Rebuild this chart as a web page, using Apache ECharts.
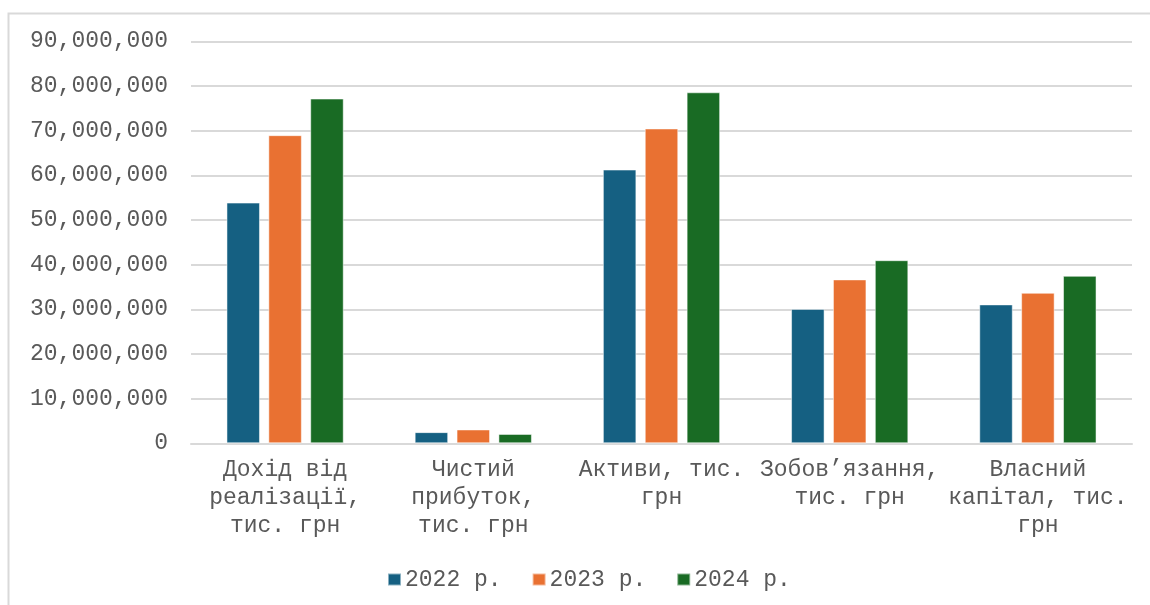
<!DOCTYPE html>
<html>
<head>
<meta charset="utf-8">
<script src="https://cdn.jsdelivr.net/npm/echarts@6/dist/echarts.min.js"></script>
<style>
  html, body { margin: 0; padding: 0; background: #ffffff; }
  #chart { width: 1150px; height: 605px; }
</style>
</head>
<body>
<div id="chart"></div>
<script>
// Financial indicators, thousand UAH
const categories = [
  'Дохід від\nреалізації,\nтис. грн',
  'Чистий\nприбуток,\nтис. грн',
  'Активи, тис.\nгрн',
  'Зобов’язання,\nтис. грн',
  'Власний\nкапітал, тис.\nгрн'
];
const seriesNames = ['2022 р.', '2023 р.', '2024 р.'];
const values2022 = [53900000, 2500000, 61300000, 30100000, 31100000];
const values2023 = [69000000, 3100000, 70500000, 36700000, 33700000];
const values2024 = [77200000, 2100000, 78600000, 41000000, 37500000];
const colors = ['#156082', '#E97132', '#196B24'];

const FONT = "'Liberation Mono', 'DejaVu Sans Mono', monospace";
const TEXT = '#595959';

const chart = echarts.init(document.getElementById('chart'), null, { renderer: 'canvas' });

const allValues = [values2022, values2023, values2024];

chart.setOption({
  animation: false,
  color: colors,
  textStyle: { fontFamily: FONT },
  graphic: [{
    type: 'rect',
    shape: { x: 8.5, y: 13.5, width: 1160, height: 620 },
    style: { fill: 'none', stroke: '#d9d9d9', lineWidth: 2 },
    silent: true,
    z: -1
  }],
  grid: { left: 191, right: 18, top: 41.4, bottom: 161.7, containLabel: false },
  legend: {
    data: seriesNames,
    left: 382,
    top: 563,
    itemWidth: 13,
    itemHeight: 12,
    itemGap: 30,
    icon: 'rect',
    textStyle: { color: TEXT, fontSize: 23, fontFamily: FONT, padding: [0, 0, 0, -1] }
  },
  xAxis: {
    type: 'category',
    data: categories,
    axisLine: { show: true, lineStyle: { color: '#d9d9d9', width: 2 } },
    axisTick: { show: false },
    axisLabel: {
      color: TEXT,
      fontSize: 23,
      fontFamily: FONT,
      lineHeight: 28,
      margin: 13,
      interval: 0,
      align: 'center'
    }
  },
  yAxis: {
    type: 'value',
    min: 0,
    max: 90000000,
    interval: 10000000,
    axisLine: { show: false },
    axisTick: { show: false },
    splitLine: { lineStyle: { color: '#d9d9d9', width: 2 } },
    axisLabel: {
      color: TEXT,
      fontSize: 23,
      fontFamily: FONT,
      margin: 23,
      formatter: v => v.toLocaleString('en-US')
    }
  },
  series: seriesNames.map((name, i) => ({
    name: name,
    type: 'bar',
    data: allValues[i],
    barWidth: 33.5,
    barGap: '25%',
    itemStyle: { color: colors[i], borderColor: 'rgba(255,255,255,0.5)', borderWidth: 1 }
  }))
});
</script>
</body>
</html>
